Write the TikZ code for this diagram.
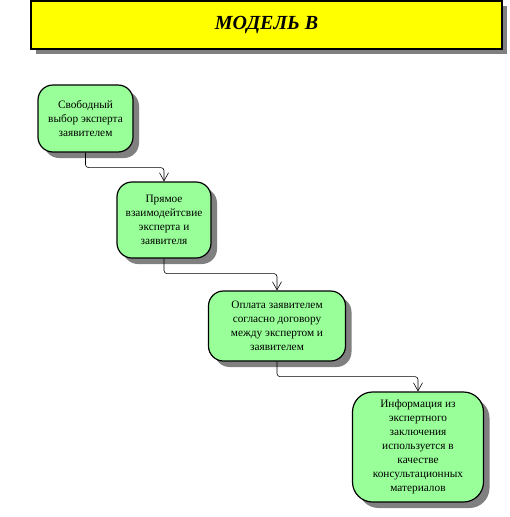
\documentclass[tikz,border=0pt]{standalone}
\usepackage{fontspec}
\setmainfont{Liberation Serif}
\usetikzlibrary{arrows.meta,shadows}
\definecolor{mdYellow}{HTML}{FFFF00}
\definecolor{mdGreen}{HTML}{99FF99}
\definecolor{mdShadow}{HTML}{808080}
\tikzset{
  >={Straight Barb[length=8pt,width=9pt]},
  heading/.style={draw=black, line width=1.3pt, fill=mdYellow, minimum width=471pt,
              minimum height=48pt, font=\fontsize{20}{24}\selectfont\bfseries\itshape,
              drop shadow={shadow xshift=5pt, shadow yshift=-5pt, fill=mdShadow, opacity=1}},
  stage/.style={draw=black, line width=1.2pt, fill=mdGreen, rounded corners=15pt,
              align=center, inner sep=3pt, font=\fontsize{11.3}{14}\selectfont,
              drop shadow={shadow xshift=6pt, shadow yshift=-6pt, fill=mdShadow, opacity=1}},
  link/.style={->, draw=black, line width=0.6pt, rounded corners=3pt},
}

\begin{document}
\begin{tikzpicture}[x=1pt,y=-1pt]
  \useasboundingbox (0,0) rectangle (509,517);
  \node[heading] (title) at (266.5,25) {МОДЕЛЬ В};
  % stages of model B
  \node[stage,minimum width=95pt,minimum height=67pt] (s1) at (85.5,118.5)
    {Свободный\\выбор эксперта\\заявителем};
  \node[stage,minimum width=94pt,minimum height=76pt] (s2) at (164,220)
    {Прямое\\взаимодейтсвие\\эксперта и\\заявителя};
  \node[stage,minimum width=137pt,minimum height=70pt] (s3) at (277,326)
    {Оплата заявителем\\согласно договору\\между экспертом и\\заявителем};
  \node[stage,rounded corners=20pt,minimum width=131pt,minimum height=110pt] (s4) at (418,447)
    {Информация из\\экспертного\\заключения\\используется в\\качестве\\консультационных\\материалов};
  \foreach \a/\b in {s1/s2,s2/s3,s3/s4}{
    \draw[link] (\a.south) -- ++(0,15) -| (\b.north);}
\end{tikzpicture}
\end{document}
